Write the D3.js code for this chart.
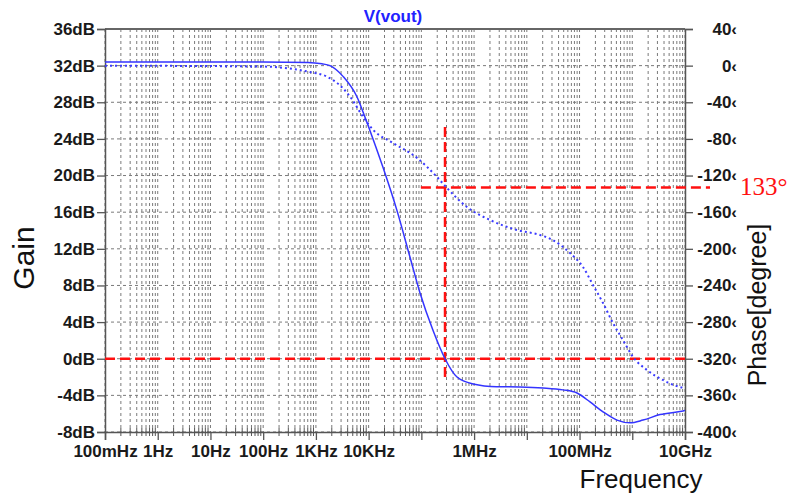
<!DOCTYPE html>
<meta charset="utf-8">
<style>
  body { margin: 0; background: #fff; }
  svg { font-family: "Liberation Sans", Arial, sans-serif; }
  .tick text { font-weight: bold; font-size: 17px; fill: #1a1a1a; }
  .grid line { stroke: #7a7a7a; stroke-width: 1; stroke-dasharray: 3,3; }
</style>
<body>
<svg width="787" height="497"></svg>
<script src="https://d3js.org/d3.v7.min.js"></script>
<script>
// gain curve (solid) ----------------------------------------------------------
const gainFreq = [0.1, 100, 700, 1300, 1850, 3300, 6000, 8500, 12100, 18700, 34400, 60800, 94000,
  166000, 281000, 474000, 955000, 2.7e6, 7.4e6, 2.03e7, 4.85e7, 8.95e7, 1.58e8, 2.79e8, 5.13e8,
  9.04e8, 1.6e9, 3.36e9, 9.2e9, 1e10];
const gainDb = [32.4, 32.4, 32.35, 32.2, 32.0, 30.8, 28.6, 26.4, 24.0, 20.9, 16.2, 11.1, 7.2,
  3.1, 0.0, -2.0, -2.75, -3.05, -3.08, -3.19, -3.4, -3.74, -4.72, -5.8, -6.7,
  -7.0, -6.7, -6.1, -5.7, -5.65];

// phase curve (dotted) --------------------------------------------------------
const phaseFreq = [0.1, 100, 400, 773, 1620, 3300, 5000, 6900, 12100, 29000, 83000, 198000, 306000,
  733000, 2e6, 6.5e6, 1.78e7, 3.1e7, 6.6e7, 1.16e8, 1.8e8, 2.79e8, 4.3e8, 6.67e8, 1.03e9,
  1.9e9, 3.8e9, 8e9, 1e10];
const phaseDeg = [0, -1, -4, -7, -12, -25, -38, -51, -70, -84.5, -100.8, -121.6, -133.6,
  -154.4, -168.5, -179.5, -184.9, -190.4, -204.6, -219.8, -239.5, -259.2, -281, -299.6, -318,
  -332.3, -343.2, -350.9, -352];

// axes ------------------------------------------------------------------------
const gainTicks = [-8, -4, 0, 4, 8, 12, 16, 20, 24, 28, 32, 36];
const phaseTicks = [-400, -360, -320, -280, -240, -200, -160, -120, -80, -40, 0, 40];
const decades = [0.1, 1, 10, 100, 1e3, 1e4, 1e5, 1e6, 1e7, 1e8, 1e9, 1e10];
const decadeLabels = ["100mHz", "1Hz", "10Hz", "100Hz", "1KHz", "10KHz", "", "1MHz", "", "100MHz", "", "10GHz"];

// markers: unity-gain crossover and phase there
const crossFreq = 2.81e5;
const crossPhase = -133;
const markLabel = "133°";

const svg = d3.select("svg");

const x = d3.scaleLog().domain([0.1, 1e10]).range([105, 685]);
const yG = d3.scaleLinear().domain([-8, 36]).range([432, 29]);
const yP = d3.scaleLinear().domain([-400, 40]).range([432, 29]);

// grid ------------------------------------------------------------------------
const gridFreqs = [];
decades.forEach((d, i) => {
  gridFreqs.push(d);
  if (i < decades.length - 1) for (let k = 2; k <= 9; k++) gridFreqs.push(d * k);
});

const grid = svg.append("g").attr("class", "grid");
grid.selectAll(".v").data(gridFreqs).enter().append("line")
  .attr("x1", d => x(d)).attr("x2", d => x(d))
  .attr("y1", yG(36)).attr("y2", yG(-8));
grid.selectAll(".h").data(gainTicks).enter().append("line")
  .attr("x1", x.range()[0]).attr("x2", x.range()[1])
  .attr("y1", d => yG(d)).attr("y2", d => yG(d));

// frame
svg.append("line").attr("x1", 105).attr("x2", 685).attr("y1", yG(36)).attr("y2", yG(36))
  .attr("stroke", "#666").attr("stroke-width", 2);

// left axis
const gAxL = svg.append("g").attr("transform", `translate(${x.range()[0]},0)`)
  .call(d3.axisLeft(yG).tickValues(gainTicks).tickFormat(d => d + "dB").tickSize(8).tickPadding(2));
// right axis
const gAxR = svg.append("g").attr("transform", `translate(${x.range()[1]},0)`)
  .call(d3.axisRight(yP).tickValues(phaseTicks).tickFormat(d => d + "‹").tickSize(8));
gAxR.selectAll(".tick text").attr("text-anchor", "end").attr("x", 52);
// bottom axis
const gAxB = svg.append("g").attr("transform", `translate(0,${yG(-8)})`)
  .call(d3.axisBottom(x).tickValues(decades).tickFormat((d, i) => decadeLabels[i]).tickSize(8).tickPadding(5));

[gAxL, gAxR, gAxB].forEach(g => {
  g.select(".domain").attr("stroke", "#555").attr("stroke-width", 1.5);
  g.selectAll(".tick line").attr("stroke", "#555").attr("stroke-width", 1.3);
});

// minor x ticks
svg.append("g").selectAll("line")
  .data(gridFreqs.filter(d => decades.indexOf(d) < 0)).enter().append("line")
  .attr("x1", d => x(d)).attr("x2", d => x(d))
  .attr("y1", yG(-8) - 4).attr("y2", yG(-8) + 4)
  .attr("stroke", "#555").attr("stroke-width", 1);

// red marker lines --------------------------------------------------------------
const red = svg.append("g").attr("stroke", "#ff1010").attr("stroke-width", 2.5)
  .attr("stroke-dasharray", "10,5").attr("fill", "none");
red.append("line")
  .attr("x1", x.range()[0]).attr("x2", x.range()[1])
  .attr("y1", yG(0)).attr("y2", yG(0));
red.append("line")
  .attr("x1", x(crossFreq)).attr("x2", x(crossFreq))
  .attr("y1", yG(25.3)).attr("y2", yG(-2.5));
red.append("line")
  .attr("x1", x(9.8e4)).attr("x2", x.range()[1] + 25)
  .attr("y1", yP(crossPhase)).attr("y2", yP(crossPhase));

// curves ------------------------------------------------------------------------
const gainLine = d3.line().x(d => x(d[0])).y(d => yG(d[1])).curve(d3.curveMonotoneX);
const phaseLine = d3.line().x(d => x(d[0])).y(d => yP(d[1])).curve(d3.curveMonotoneX);

svg.append("path")
  .datum(phaseFreq.map((f, i) => [f, phaseDeg[i]]))
  .attr("d", phaseLine)
  .attr("fill", "none").attr("stroke", "#3a3aff").attr("stroke-width", 2)
  .attr("stroke-dasharray", "2,3");

svg.append("path")
  .datum(gainFreq.map((f, i) => [f, gainDb[i]]))
  .attr("d", gainLine)
  .attr("fill", "none").attr("stroke", "#3434ff").attr("stroke-width", 1.5);

// texts -------------------------------------------------------------------------
svg.append("text").attr("x", 393).attr("y", 22).attr("text-anchor", "middle")
  .attr("font-weight", "bold").attr("font-size", 17).attr("fill", "#2222ff").text("V(vout)");

svg.append("text").attr("transform", "translate(34,258) rotate(-90)").attr("text-anchor", "middle")
  .attr("font-size", 30).attr("fill", "#111").text("Gain");

svg.append("text").attr("transform", "translate(766,305) rotate(-90)").attr("text-anchor", "middle")
  .attr("font-size", 25).attr("fill", "#111").text("Phase[degree]");

svg.append("text").attr("x", 641).attr("y", 488).attr("text-anchor", "middle")
  .attr("font-size", 26).attr("fill", "#111").text("Frequency");

svg.append("text").attr("x", 740).attr("y", 195)
  .attr("font-family", "'Liberation Serif', 'Times New Roman', serif")
  .attr("font-size", 25).attr("fill", "#ff1010").text(markLabel);
</script>
</body>
